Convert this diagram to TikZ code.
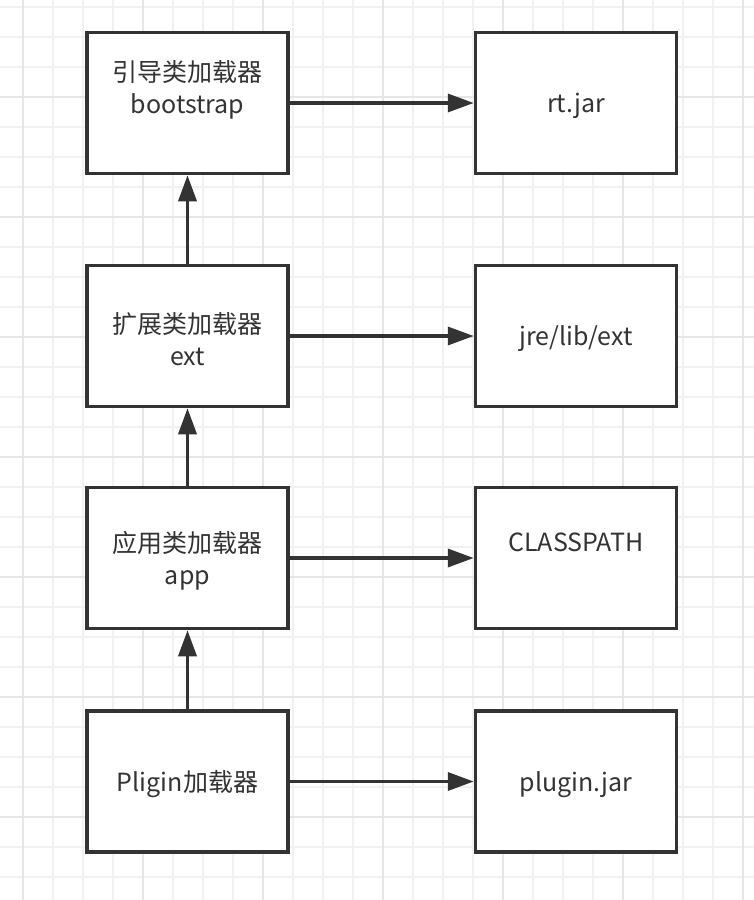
\documentclass[tikz,border=0pt]{standalone}
\usepackage{fontspec}
\setmainfont{Noto Sans CJK SC}
\usepackage{xcolor}
\usetikzlibrary{arrows.meta,positioning}
\definecolor{ink}{HTML}{333333}
\definecolor{gridminor}{HTML}{F1F1F1}
\definecolor{gridmajor}{HTML}{E6E6E6}

\begin{document}
\begin{tikzpicture}[x=1pt,y=-1pt,
  boxtext/.style={text=ink, align=center, inner sep=0pt, yshift=-3pt, font=\fontsize{25}{32}\selectfont},
  loaderbox/.style={draw=ink, line width=3.5pt, fill=white, minimum width=201pt, minimum height=141pt, inner sep=0pt, label={[boxtext]center:{#1}}},
  flow/.style={draw=ink, line width=3.5pt, -{Triangle[length=26pt,width=18pt]}}]
\useasboundingbox (0,0) rectangle (754,900);
\fill[white] (0,0) rectangle (754,900);
% grid
\foreach \gx in {23,53,...,743} \draw[gridminor, line width=1.2pt] (\gx,0) -- (\gx,900);
\foreach \gy in {7,37,...,900} \draw[gridminor, line width=1.2pt] (0,\gy) -- (754,\gy);
\foreach \gx in {23,143,...,743} \draw[gridmajor, line width=1.6pt] (\gx,0) -- (\gx,900);
\foreach \gy in {97,217,...,900} \draw[gridmajor, line width=1.6pt] (0,\gy) -- (754,\gy);

% loaders
\node[loaderbox={引导类加载器\\bootstrap\\[-4pt]\strut}] (boot) at (187.5,103) {};
\node[loaderbox={扩展类加载器\\ext}] (ext) at (187.5,336) {};
\node[loaderbox={应用类加载器\\app}] (app) at (187.5,558) {};
\node[loaderbox={Pligin加载器}] (plugin) at (187.5,781.5) {};

% paths
\node[loaderbox={rt.jar}] (rtjar) at (576,103) {};
\node[loaderbox={jre/lib/ext}] (extdir) at (576,336) {};
\node[loaderbox={CLASSPATH\\[-4pt]\strut}] (cpath) at (576,558) {};
\node[loaderbox={plugin.jar}] (pjar) at (576,781.5) {};

\draw[flow] (boot) -- (rtjar);
\draw[flow] (ext) -- (extdir);
\draw[flow] (app) -- (cpath);
\draw[flow] (plugin) -- (pjar);

\draw[flow] (ext) -- (boot);
\draw[flow] (app) -- (ext);
\draw[flow] (plugin) -- (app);
\end{tikzpicture}
\end{document}
